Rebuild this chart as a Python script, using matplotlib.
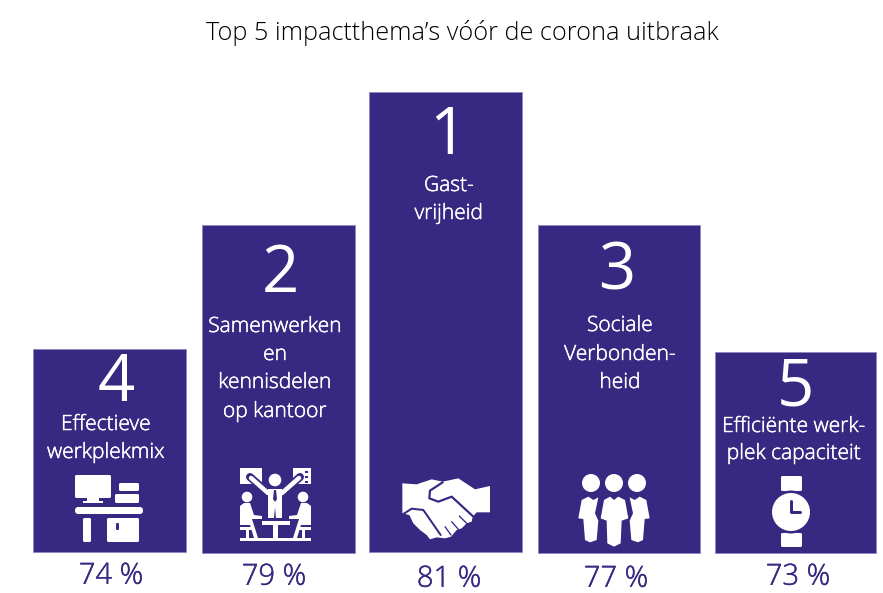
import matplotlib
matplotlib.use('Agg')
import matplotlib.pyplot as plt
import matplotlib.patheffects as pe
from matplotlib.patches import Circle, FancyBboxPatch, Polygon, Rectangle

plt.rcParams['font.family'] = ['Open Sans', 'DejaVu Sans']

# Volgorde zoals in de figuur (links naar rechts)
ranks = ['4', '2', '1', '3', '5']
labels = ['Effectieve\nwerkplekmix',
          'Samenwerken\nen\nkennisdelen\nop kantoor',
          'Gast-\nvrijheid',
          'Sociale\nVerbonden-\nheid',
          'Efficiënte werk-\nplek capaciteit']
percent = [74, 79, 81, 77, 73]
heights = [203, 328, 460, 328, 201]

# Layout in pixels
bar_left = [33, 202, 369, 538, 715]
bar_width = [153, 153, 153, 162, 161]
baseline = [552, 553, 552, 553, 553]
rank_y = [384, 275, 137, 272, 388]
rank_x = [116, 280, 448, 617, 795]
label_y = [[425, 453], [327, 355, 383, 412], [186, 214], [326, 355, 383], [427, 454]]
label_x = [106, 275, 449, 620, 794]
pct_x = [111, 274, 449, 616, 798]
pct_y = [576, 577, 579, 579, 577]

PURPLE = '#372882'
EDGE = '#8f86c4'
WHITE = 'white'

fig = plt.figure(figsize=(8.83, 5.93), dpi=100)
ax = fig.add_axes([0, 0, 1, 1])
ax.set_xlim(0, 883)
ax.set_ylim(593, 0)
ax.axis('off')

ax.text(462, 33, 'Top 5 impactthema’s vóór de corona uitbraak', fontsize=18.2,
        fontweight='light', ha='center', va='center', color='black')

lefts = [l + w / 2 for l, w in zip(bar_left, bar_width)]
ax.bar(lefts, [-h for h in heights], width=bar_width, bottom=baseline,
       color=PURPLE, edgecolor=EDGE, linewidth=0.6)

# beetje dikker dan light, zoals in het origineel
thick_white = [pe.withStroke(linewidth=0.35, foreground=WHITE)]
thick_purple = [pe.withStroke(linewidth=0.3, foreground=PURPLE)]

for i in range(len(ranks)):
    ax.text(rank_x[i], rank_y[i], ranks[i], fontsize=47, color=WHITE, fontweight='normal',
            ha='center', va='center')
    for line, y in zip(labels[i].split('\n'), label_y[i]):
        ax.text(label_x[i], y, line, fontsize=15.1, color=WHITE, fontweight='light',
                ha='center', va='center', path_effects=thick_white)
    ax.text(pct_x[i], pct_y[i], '%d %%' % percent[i], fontsize=21, color=PURPLE,
            fontweight='light', ha='center', va='center', path_effects=thick_purple)


def box(x0, y0, x1, y1, color=WHITE, z=3):
    ax.add_patch(Rectangle((x0, y0), x1 - x0, y1 - y0, color=color, lw=0, zorder=z))


def rbox(x0, y0, x1, y1, r=1.5, color=WHITE, z=3):
    ax.add_patch(FancyBboxPatch((x0 + r, y0 + r), x1 - x0 - 2 * r, y1 - y0 - 2 * r,
                                boxstyle='round,pad=%f,rounding_size=%f' % (r, r),
                                color=color, lw=0, zorder=z))


def circ(x, y, r, color=WHITE, z=3):
    ax.add_patch(Circle((x, y), r, color=color, lw=0, zorder=z))


def poly(pts, color=WHITE, z=3):
    ax.add_patch(Polygon(pts, closed=True, color=color, lw=0, zorder=z))


def stroke(pts, w, color=PURPLE, z=4):
    ax.plot([p[0] for p in pts], [p[1] for p in pts], color=color, lw=w * 0.72,
            zorder=z, solid_capstyle='round', solid_joinstyle='round')


def desk_icon():
    rbox(75, 475, 111, 498)
    box(87, 498, 99, 501)
    box(83, 501, 103, 503)
    rbox(119, 483, 139, 491)
    rbox(115, 494, 139, 503)
    rbox(75, 507, 143, 514, r=3.4)
    rbox(83, 518, 91, 542)
    rbox(107, 518, 139, 542)
    rbox(116, 523, 119, 530, r=1, color=PURPLE, z=4)


def meeting_icon():
    # borden
    box(240, 468, 262, 484)
    box(293, 468, 311, 484)
    for y in [471, 476, 481]:
        box(305, y, 308, y + 2, color=PURPLE, z=4)
    # staande figuur
    circ(275, 480, 6.3)
    stroke([(250, 477), (268, 493)], 8, color=PURPLE, z=4)
    stroke([(300, 477), (282, 493)], 8, color=PURPLE, z=4)
    stroke([(251, 478), (268, 493)], 4.5, color=WHITE, z=5)
    stroke([(299, 478), (282, 493)], 4.5, color=WHITE, z=5)
    poly([(268, 489), (282, 489), (282, 518), (276, 518), (275, 507), (274, 518), (268, 518)], z=5)
    poly([(274, 490), (276, 490), (277, 499), (275, 502), (273, 499)], color=PURPLE, z=6)
    # zittende figuren
    circ(247, 497, 5.3)
    circ(303, 497, 5.3)
    poly([(240, 506), (244, 503), (250, 503), (254, 515), (262, 516), (262, 519), (252, 519),
          (258, 538), (254, 538), (250, 525), (240, 525)])
    poly([(311, 506), (307, 503), (301, 503), (297, 515), (289, 516), (289, 519), (299, 519),
          (293, 538), (297, 538), (301, 525), (311, 525)])
    # tafel, stoelen en vloer
    box(262, 521, 290, 525)
    box(273, 525, 278, 538)
    box(240, 527, 254, 530)
    box(297, 527, 311, 530)
    box(246, 530, 249, 538)
    box(302, 530, 305, 538)
    box(240, 538, 311, 541)


def handshake_icon():
    pts = [(67, 100), (110, 103), (155, 88), (188, 95), (235, 85), (285, 118), (330, 108),
           (330, 187), (290, 187), (278, 200), (275, 215), (260, 220), (245, 235), (230, 240),
           (213, 260), (195, 265), (170, 262), (150, 268), (140, 255), (120, 240), (100, 220),
           (88, 195), (67, 190)]
    poly([(380 + x / 3, 450 + y / 3) for x, y in pts])
    line = [(188, 97), (150, 122), (148, 145), (175, 155), (215, 140), (278, 198)]
    stroke([(380 + x / 3, 450 + y / 3) for x, y in line], 2.2)
    line = [(70, 192), (95, 176), (130, 180), (182, 255)]
    stroke([(380 + x / 3, 450 + y / 3) for x, y in line], 2)
    for a, b in [((195, 230), (213, 255)), ((215, 215), (235, 238)), ((238, 198), (262, 222))]:
        stroke([(380 + a[0] / 3, 450 + a[1] / 3), (380 + b[0] / 3, 450 + b[1] / 3)], 1.3)


def people_icon():
    for x in [591, 614, 637]:
        circ(x, 483, 9)
    center = [(690, 140), (702, 150), (715, 140), (735, 150), (745, 205), (725, 212), (722, 280),
              (702, 290), (682, 280), (680, 212), (662, 205), (672, 150)]
    left = [(605, 150), (625, 140), (640, 150), (655, 142), (645, 190), (655, 212), (650, 270),
            (630, 277), (615, 270), (610, 207), (595, 205)]
    right = [(1404 - x, y) for x, y in left]
    for pts in [center, left, right]:
        poly([(380 + x / 3, 450 + y / 3) for x, y in pts])


def watch_icon():
    rbox(781, 476, 802, 491, r=1.5)
    rbox(781, 533, 802, 547, r=1.5)
    circ(791, 512, 21.5, color=PURPLE, z=4)
    circ(791, 512, 19, z=5)
    stroke([(791, 501), (791, 512), (800, 512)], 3, z=6)


desk_icon()
meeting_icon()
handshake_icon()
people_icon()
watch_icon()

fig.savefig('out.png', dpi=100)
